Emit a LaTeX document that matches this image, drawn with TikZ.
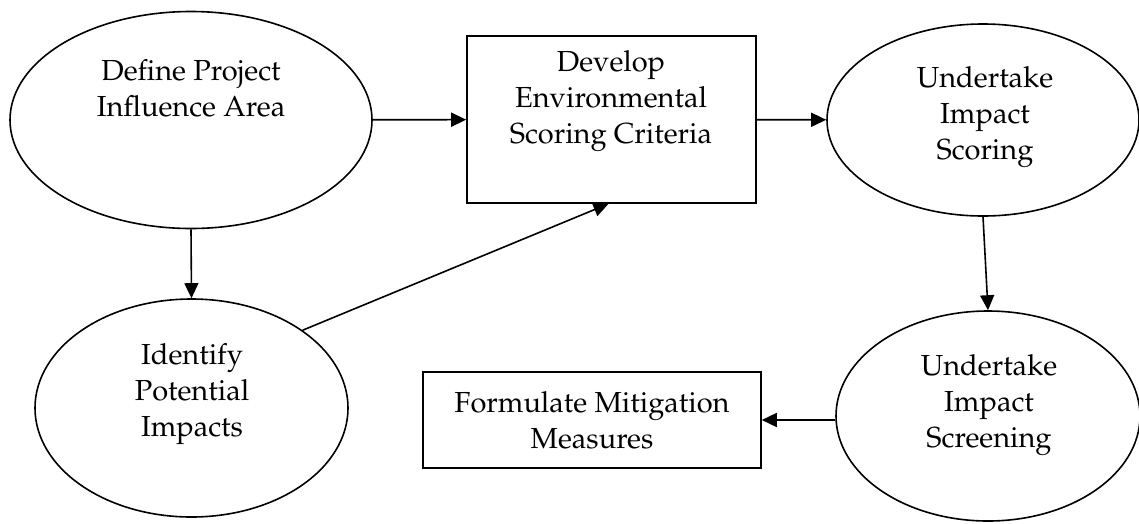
\documentclass[tikz,border=0pt]{standalone}
\usepackage[T1]{fontenc}
\usepackage{palatino}
\usepackage{tikz}
\usetikzlibrary{shapes.geometric,arrows.meta}

\begin{document}
\begin{tikzpicture}[x=1pt,y=-1pt,line width=1.6pt,
    oval/.style={draw,ellipse,inner sep=0pt},
    box/.style={draw,rectangle,inner sep=0pt},
    txt/.style={align=center,inner sep=0pt,font=\fontsize{29}{36}\selectfont},
    arr/.style={-{Triangle[length=15pt,width=14pt]}}]
    \useasboundingbox (0,0) rectangle (1139,523);
    \node[oval,minimum width=362pt,minimum height=217pt] (define) at (191,120) {};
    \node[box,minimum width=289pt,minimum height=167pt] (develop) at (611.5,119.5) {};
    \node[oval,minimum width=312pt,minimum height=192pt] (scoring) at (983,120) {};
    \node[oval,minimum width=313pt,minimum height=218pt] (identify) at (191.5,408) {};
    \node[oval,minimum width=304pt,minimum height=210pt] (screening) at (988,416) {};
    \node[box,minimum width=338pt,minimum height=96pt] (mitigate) at (592,420) {};
    \node[txt] (defineT) at (191,88) {Define Project\\Influence Area};
    \node[txt] (developT) at (611,101) {Develop\\Environmental\\Scoring Criteria};
    \node[txt] (scoringT) at (985,117) {Undertake\\Impact\\Scoring};
    \node[txt] (identifyT) at (192,394) {Identify\\Potential\\Impacts};
    \node[txt] (screeningT) at (989,405) {Undertake\\Impact\\Screening};
    \node[txt] (mitigateT) at (592,420) {Formulate Mitigation\\Measures};
    \draw[arr] (define) -- (develop);
    \draw[arr] (develop) -- (scoring);
    \draw[arr] (define.south) -- (identify.north);
    \draw[arr] (identify.35) -- ([xshift=-3pt]develop.south);
    \draw[arr] (scoring.south) -- (screening.north);
    \draw[arr] (mitigate.east -| screening.west) -- (mitigate.east);
\end{tikzpicture}
\end{document}
